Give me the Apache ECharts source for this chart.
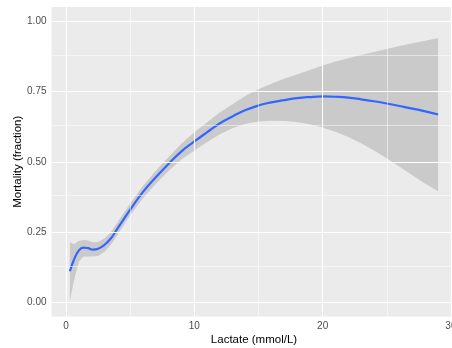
<!DOCTYPE html>
<html>
<head>
<meta charset="utf-8">
<script src="https://cdn.jsdelivr.net/npm/echarts@6/dist/echarts.min.js"></script>
<style>
html,body{margin:0;padding:0;background:#fff;}
#c{width:452px;height:348px;}
</style>
</head>
<body>
<div id="c"></div>
<script>
// Lactate values (mmol/L)
var lactate = [0.3, 0.6, 1.0, 1.35, 1.7, 2.1, 2.5, 3.0, 3.5, 4.0, 5, 6, 7, 8, 9, 10, 11, 12, 13, 14, 15, 16, 17, 18, 19, 20, 21, 22, 23, 24, 25, 26, 27, 28, 29];
// Smoothed mortality (fraction)
var fit = [0.111, 0.150, 0.185, 0.195, 0.193, 0.188, 0.191, 0.205, 0.228, 0.262, 0.330, 0.393, 0.445, 0.493, 0.537, 0.572, 0.605, 0.637, 0.662, 0.684, 0.700, 0.711, 0.719, 0.726, 0.730, 0.732, 0.731, 0.728, 0.722, 0.715, 0.707, 0.698, 0.689, 0.679, 0.668];
// Confidence band
var lower = [0.005, 0.075, 0.145, 0.163, 0.163, 0.163, 0.165, 0.180, 0.205, 0.240, 0.310, 0.370, 0.422, 0.468, 0.508, 0.540, 0.570, 0.598, 0.620, 0.635, 0.643, 0.646, 0.645, 0.641, 0.633, 0.622, 0.607, 0.588, 0.566, 0.540, 0.512, 0.482, 0.452, 0.422, 0.395];
var upper = [0.215, 0.207, 0.218, 0.222, 0.220, 0.214, 0.215, 0.228, 0.250, 0.284, 0.352, 0.415, 0.468, 0.518, 0.565, 0.605, 0.640, 0.676, 0.705, 0.735, 0.758, 0.777, 0.795, 0.810, 0.826, 0.842, 0.856, 0.868, 0.879, 0.890, 0.901, 0.911, 0.921, 0.930, 0.940];
// Ticks and gridlines
var xTicks = [0, 10, 20, 30];
var xMinor = [5, 15, 25];
var yTicks = [0, 0.25, 0.5, 0.75, 1.0];
var yMinor = [0.125, 0.375, 0.625, 0.875];

var chart = echarts.init(document.getElementById('c'), null, {renderer: 'canvas'});

function pairs(ys) { return lactate.map(function (x, i) { return [x, ys[i]]; }); }
var bandData = lactate.map(function (x, i) { return [x, lower[i], upper[i]]; });

var gridLines = [];
xTicks.forEach(function (v) { gridLines.push({xAxis: v, lineStyle: {width: 1.1}}); });
xMinor.forEach(function (v) { gridLines.push({xAxis: v, lineStyle: {width: 0.5}}); });
yTicks.forEach(function (v) { gridLines.push({yAxis: v, lineStyle: {width: 1.1}}); });
yMinor.forEach(function (v) { gridLines.push({yAxis: v, lineStyle: {width: 0.5}}); });

var font = 'Liberation Sans, Arial, sans-serif';

chart.setOption({
  animation: false,
  backgroundColor: '#ffffff',
  grid: {
    left: 51.5, right: -4.5, top: 7, bottom: 31.5,
    outerBoundsMode: 'none', containLabel: false,
    show: true, backgroundColor: '#EBEBEB', borderWidth: 0
  },
  xAxis: {
    type: 'value', min: -1.135, max: 30.435,
    name: 'Lactate (mmol/L)', nameLocation: 'middle', nameGap: 17.5, nameMoveOverlap: false,
    nameTextStyle: {color: '#000', fontSize: 11.5, fontFamily: font},
    axisLine: {show: false},
    axisTick: {show: true, customValues: xTicks, length: 3, lineStyle: {color: '#333', width: 1}},
    axisLabel: {customValues: xTicks, color: '#4D4D4D', fontSize: 10, fontFamily: font, margin: 5,
      formatter: function (v) { return String(v); }},
    splitLine: {show: false}
  },
  yAxis: {
    type: 'value', min: -0.05, max: 1.05,
    name: 'Mortality (fraction)', nameLocation: 'middle', nameGap: 27.5, nameRotate: 90, nameMoveOverlap: false,
    nameTextStyle: {color: '#000', fontSize: 11.5, fontFamily: font},
    axisLine: {show: false},
    axisTick: {show: true, customValues: yTicks, length: 3, lineStyle: {color: '#333', width: 1}},
    axisLabel: {customValues: yTicks, color: '#4D4D4D', fontSize: 10, fontFamily: font, margin: 5,
      formatter: function (v) { return v.toFixed(2); }},
    splitLine: {show: false}
  },
  series: [
    {
      type: 'line', data: [], z: 1, silent: true,
      markLine: {
        silent: true, symbol: 'none', label: {show: false},
        lineStyle: {color: '#ffffff', type: 'solid'},
        emphasis: {disabled: true},
        data: gridLines
      }
    },
    {
      type: 'custom', data: bandData, z: 2, silent: true,
      encode: {x: 0, y: [1, 2]},
      renderItem: function (params, api) {
        if (params.dataIndex !== 0) return null;
        var pts = [];
        var i;
        for (i = 0; i < bandData.length; i++) pts.push(api.coord([bandData[i][0], bandData[i][2]]));
        for (i = bandData.length - 1; i >= 0; i--) pts.push(api.coord([bandData[i][0], bandData[i][1]]));
        return {
          type: 'polygon',
          shape: {points: pts},
          style: {fill: 'rgba(153,153,153,0.4)', stroke: null}
        };
      }
    },
    {
      type: 'line', data: pairs(fit), smooth: true, symbol: 'none', z: 3,
      lineStyle: {color: '#3366FF', width: 2.2}, silent: true
    }
  ]
});
</script>
</body>
</html>
